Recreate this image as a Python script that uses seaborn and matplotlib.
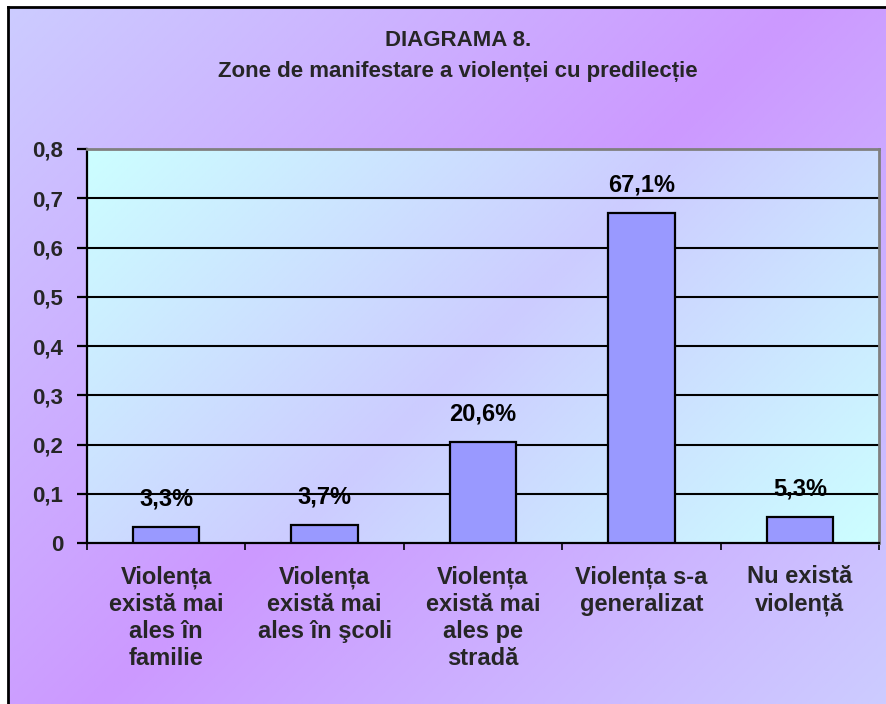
import numpy as np
import matplotlib
matplotlib.use("Agg")
import matplotlib.pyplot as plt
import matplotlib.colors as mcolors
from matplotlib.ticker import FixedLocator
import seaborn as sns

# ---- data ----
categories = [
    "Violența\nexistă mai\nales în\nfamilie",
    "Violența\nexistă mai\nales în şcoli",
    "Violența\nexistă mai\nales pe\nstradă",
    "Violența s-a\ngeneralizat",
    "Nu există\nviolență",
]
values = [0.033, 0.037, 0.206, 0.671, 0.053]
value_labels = ["3,3%", "3,7%", "20,6%", "67,1%", "5,3%"]
y_ticks = [0, 0.1, 0.2, 0.3, 0.4, 0.5, 0.6, 0.7, 0.8]
y_tick_labels = ["0", "0,1", "0,2", "0,3", "0,4", "0,5", "0,6", "0,7", "0,8"]
title_line1 = "DIAGRAMA 8."
title_line2 = "Zone de manifestare a violenței cu predilecție"

sns.set_theme(style="white")
plt.rcParams["font.family"] = ["Liberation Sans", "DejaVu Sans"]
plt.rcParams["font.weight"] = "bold"

W, H = 886, 704
fig = plt.figure(figsize=(W / 100, H / 100), dpi=100, facecolor="white")


def diag_gradient(w, h, c_end, c_mid):
    xs = np.linspace(0, 1, w)[None, :] * w
    ys = np.linspace(0, 1, h)[:, None] * h
    t = (xs + ys) / (w + h)
    s = 1 - np.abs(2 * t - 1)  # 0 at ends, 1 in middle
    a = np.array(mcolors.to_rgb(c_end))
    b = np.array(mcolors.to_rgb(c_mid))
    return a[None, None, :] * (1 - s[..., None]) + b[None, None, :] * s[..., None]


# outer background with frame
bg = fig.add_axes([8 / W, 0, 1 - 8 / W, 1 - 7 / H])
bg.imshow(diag_gradient(300, 240, "#CCCCFF", "#CC99FF"), aspect="auto",
          extent=[0, 1, 0, 1], origin="upper", interpolation="bilinear")
bg.set_xticks([])
bg.set_yticks([])
for side in ["right", "bottom"]:
    bg.spines[side].set_visible(False)
for side in ["left", "top"]:
    bg.spines[side].set_color("black")
    bg.spines[side].set_linewidth(2)
bg.set_zorder(0)

# main axes
ax_l, ax_r = 87 / W, 879 / W
ax_b, ax_t = 1 - 543 / H, 1 - 149 / H
ax = fig.add_axes([ax_l, ax_b, ax_r - ax_l, ax_t - ax_b])
ax.set_zorder(1)
ax.imshow(diag_gradient(400, 200, "#CCFFFF", "#CCCCFF"), aspect="auto",
          extent=[-0.5, 4.5, 0, 0.8], origin="upper", interpolation="bilinear",
          zorder=0)

for yv in y_ticks[1:-1]:
    ax.axhline(yv, color="black", linewidth=1.5, zorder=1)

sns.barplot(x=list(range(len(values))), y=values, color="#9999FF",
            saturation=1, edgecolor="black", linewidth=1.6, width=0.42,
            ax=ax, zorder=3, native_scale=True)

for i, (v, lab) in enumerate(zip(values, value_labels)):
    ax.annotate(lab, (i, v), xytext=(0, 20), textcoords="offset points",
                ha="center", va="center", fontsize=17, fontweight="bold",
                color="black", zorder=4)

ax.set_xlim(-0.5, 4.5)
ax.set_ylim(0, 0.8)
ax.set_xlabel("")
ax.set_ylabel("")

ax.set_yticks(y_ticks)
ax.set_yticklabels(y_tick_labels, fontsize=16, fontweight="bold")
ax.tick_params(axis="y", direction="out", length=7, width=1.6, color="black",
               pad=10, left=True)

ax.set_xticks(range(len(categories)))
ax.set_xticklabels(categories, fontsize=17, fontweight="bold", linespacing=1.22)
ax.tick_params(axis="x", which="major", length=0, pad=16, bottom=True)
ax.xaxis.set_minor_locator(FixedLocator([-0.5, 0.5, 1.5, 2.5, 3.5, 4.5]))
ax.tick_params(axis="x", which="minor", direction="out", length=5, width=1.2,
               color="black", bottom=True)

for side in ["left", "bottom"]:
    ax.spines[side].set_color("black")
    ax.spines[side].set_linewidth(1.6)
for side in ["top", "right"]:
    ax.spines[side].set_color("#808080")
    ax.spines[side].set_linewidth(2)
ax.grid(False)

fig.text(458 / W, 1 - 40 / H, title_line1, ha="center", va="center",
         fontsize=16, fontweight="bold")
fig.text(458 / W, 1 - 72 / H, title_line2, ha="center", va="center",
         fontsize=16, fontweight="bold")

fig.savefig("out.png", dpi=100, facecolor="white")
